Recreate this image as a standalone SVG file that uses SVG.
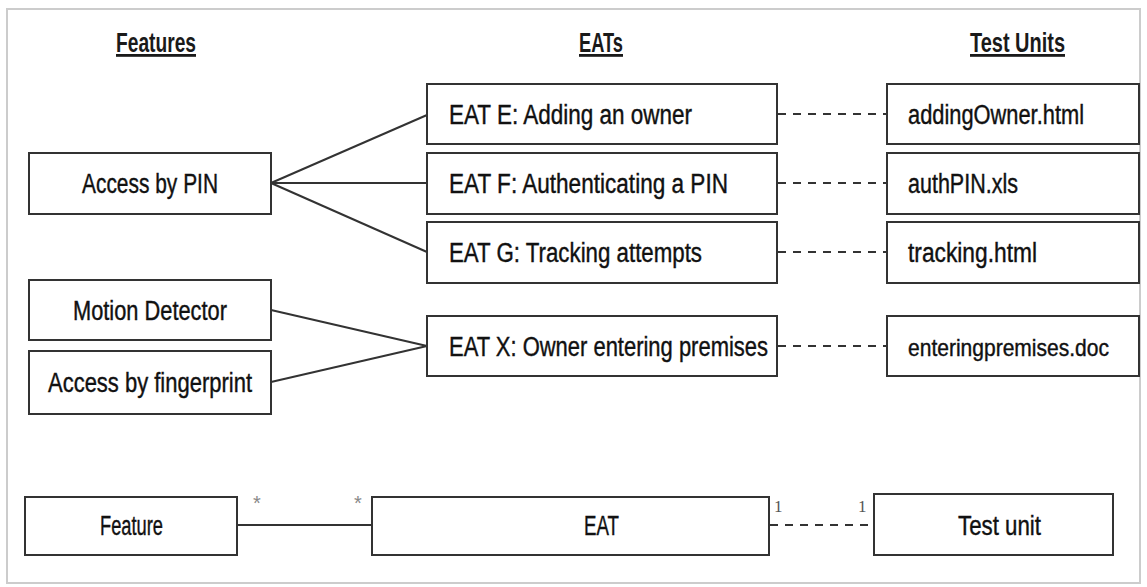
<svg xmlns="http://www.w3.org/2000/svg" width="1147" height="587" viewBox="0 0 1147 587">
<style>
.box{fill:#fff;stroke:#333;stroke-width:2}
.t{font-family:"Liberation Sans",Arial,sans-serif;font-size:27px;fill:#111;stroke:#111;stroke-width:0.4}
.h{font-family:"Liberation Sans",Arial,sans-serif;font-size:28px;font-weight:bold;fill:#1a1a1a;text-decoration:underline}
.ln{stroke:#333;stroke-width:2;fill:none}
.ds{stroke:#333;stroke-width:2;fill:none;stroke-dasharray:8 7}
.m{font-family:"Liberation Sans",Arial,sans-serif;font-size:20px;fill:#888}
.n{font-family:"Liberation Serif",serif;font-size:17px;fill:#555}
</style>
<rect x="0" y="0" width="1147" height="587" fill="#fff"/>
<rect x="7" y="9" width="1133" height="574" fill="#fff" stroke="#ccc" stroke-width="2"/>
<g id="headers">
<text class="h" x="116" y="52" textLength="80" lengthAdjust="spacingAndGlyphs">Features</text>
<text class="h" x="579" y="52" textLength="44" lengthAdjust="spacingAndGlyphs">EATs</text>
<text class="h" x="970" y="52" textLength="95" lengthAdjust="spacingAndGlyphs">Test Units</text>
</g>
<g id="connectors">
<line class="ln" x1="271" y1="183" x2="427" y2="115"/>
<line class="ln" x1="271" y1="183" x2="427" y2="183"/>
<line class="ln" x1="271" y1="183" x2="427" y2="252"/>
<line class="ln" x1="271" y1="310" x2="427" y2="346"/>
<line class="ln" x1="271" y1="382" x2="427" y2="346"/>
<line class="ds" x1="778" y1="114" x2="887" y2="114"/>
<line class="ds" x1="778" y1="183" x2="887" y2="183"/>
<line class="ds" x1="778" y1="252" x2="887" y2="252"/>
<line class="ds" x1="778" y1="346" x2="887" y2="346"/>
<line class="ln" x1="237" y1="525" x2="372" y2="525"/>
<line class="ds" x1="770" y1="525" x2="874" y2="525"/>
<text class="m" x="253" y="510">*</text>
<text class="m" x="354" y="510">*</text>
<text class="n" x="774" y="512">1</text>
<text class="n" x="858" y="512">1</text>
</g>
<g id="access-pin"><rect class="box" x="29" y="153" width="242" height="61"/><text class="t" x="82" y="193" textLength="136" lengthAdjust="spacingAndGlyphs">Access by PIN</text></g>
<g id="motion"><rect class="box" x="29" y="280" width="242" height="60"/><text class="t" x="73" y="320" textLength="154" lengthAdjust="spacingAndGlyphs">Motion Detector</text></g>
<g id="fingerprint"><rect class="box" x="29" y="351" width="242" height="63"/><text class="t" x="48" y="392" textLength="204" lengthAdjust="spacingAndGlyphs">Access by fingerprint</text></g>
<g id="eat-e"><rect class="box" x="427" y="84" width="350" height="60"/><text class="t" x="449" y="124" textLength="243" lengthAdjust="spacingAndGlyphs">EAT E: Adding an owner</text></g>
<g id="eat-f"><rect class="box" x="427" y="153" width="350" height="61"/><text class="t" x="449" y="193" textLength="279" lengthAdjust="spacingAndGlyphs">EAT F: Authenticating a PIN</text></g>
<g id="eat-g"><rect class="box" x="427" y="222" width="350" height="61"/><text class="t" x="449" y="262" textLength="253" lengthAdjust="spacingAndGlyphs">EAT G: Tracking attempts</text></g>
<g id="eat-x"><rect class="box" x="427" y="316" width="350" height="60"/><text class="t" x="449" y="356" textLength="319" lengthAdjust="spacingAndGlyphs">EAT X: Owner entering premises</text></g>
<g id="tu-adding"><rect class="box" x="887" y="84" width="252" height="60"/><text class="t" x="908" y="124" textLength="176" lengthAdjust="spacingAndGlyphs">addingOwner.html</text></g>
<g id="tu-auth"><rect class="box" x="887" y="153" width="252" height="61"/><text class="t" x="908" y="193" textLength="110" lengthAdjust="spacingAndGlyphs">authPIN.xls</text></g>
<g id="tu-tracking"><rect class="box" x="887" y="222" width="252" height="61"/><text class="t" x="908" y="262" textLength="129" lengthAdjust="spacingAndGlyphs">tracking.html</text></g>
<g id="tu-entering"><rect class="box" x="887" y="316" width="252" height="60"/><text class="t" x="908" y="356" font-size="24" textLength="201" lengthAdjust="spacingAndGlyphs" style="font-size:24px">enteringpremises.doc</text></g>
<g id="feature"><rect class="box" x="25" y="497" width="212" height="58"/><text class="t" x="100" y="535" textLength="63" lengthAdjust="spacingAndGlyphs">Feature</text></g>
<g id="eat"><rect class="box" x="372" y="497" width="397" height="58"/><text class="t" x="584" y="535" textLength="35" lengthAdjust="spacingAndGlyphs">EAT</text></g>
<g id="test-unit"><rect class="box" x="874" y="494" width="239" height="61"/><text class="t" x="958" y="535" textLength="83" lengthAdjust="spacingAndGlyphs">Test unit</text></g>
</svg>
